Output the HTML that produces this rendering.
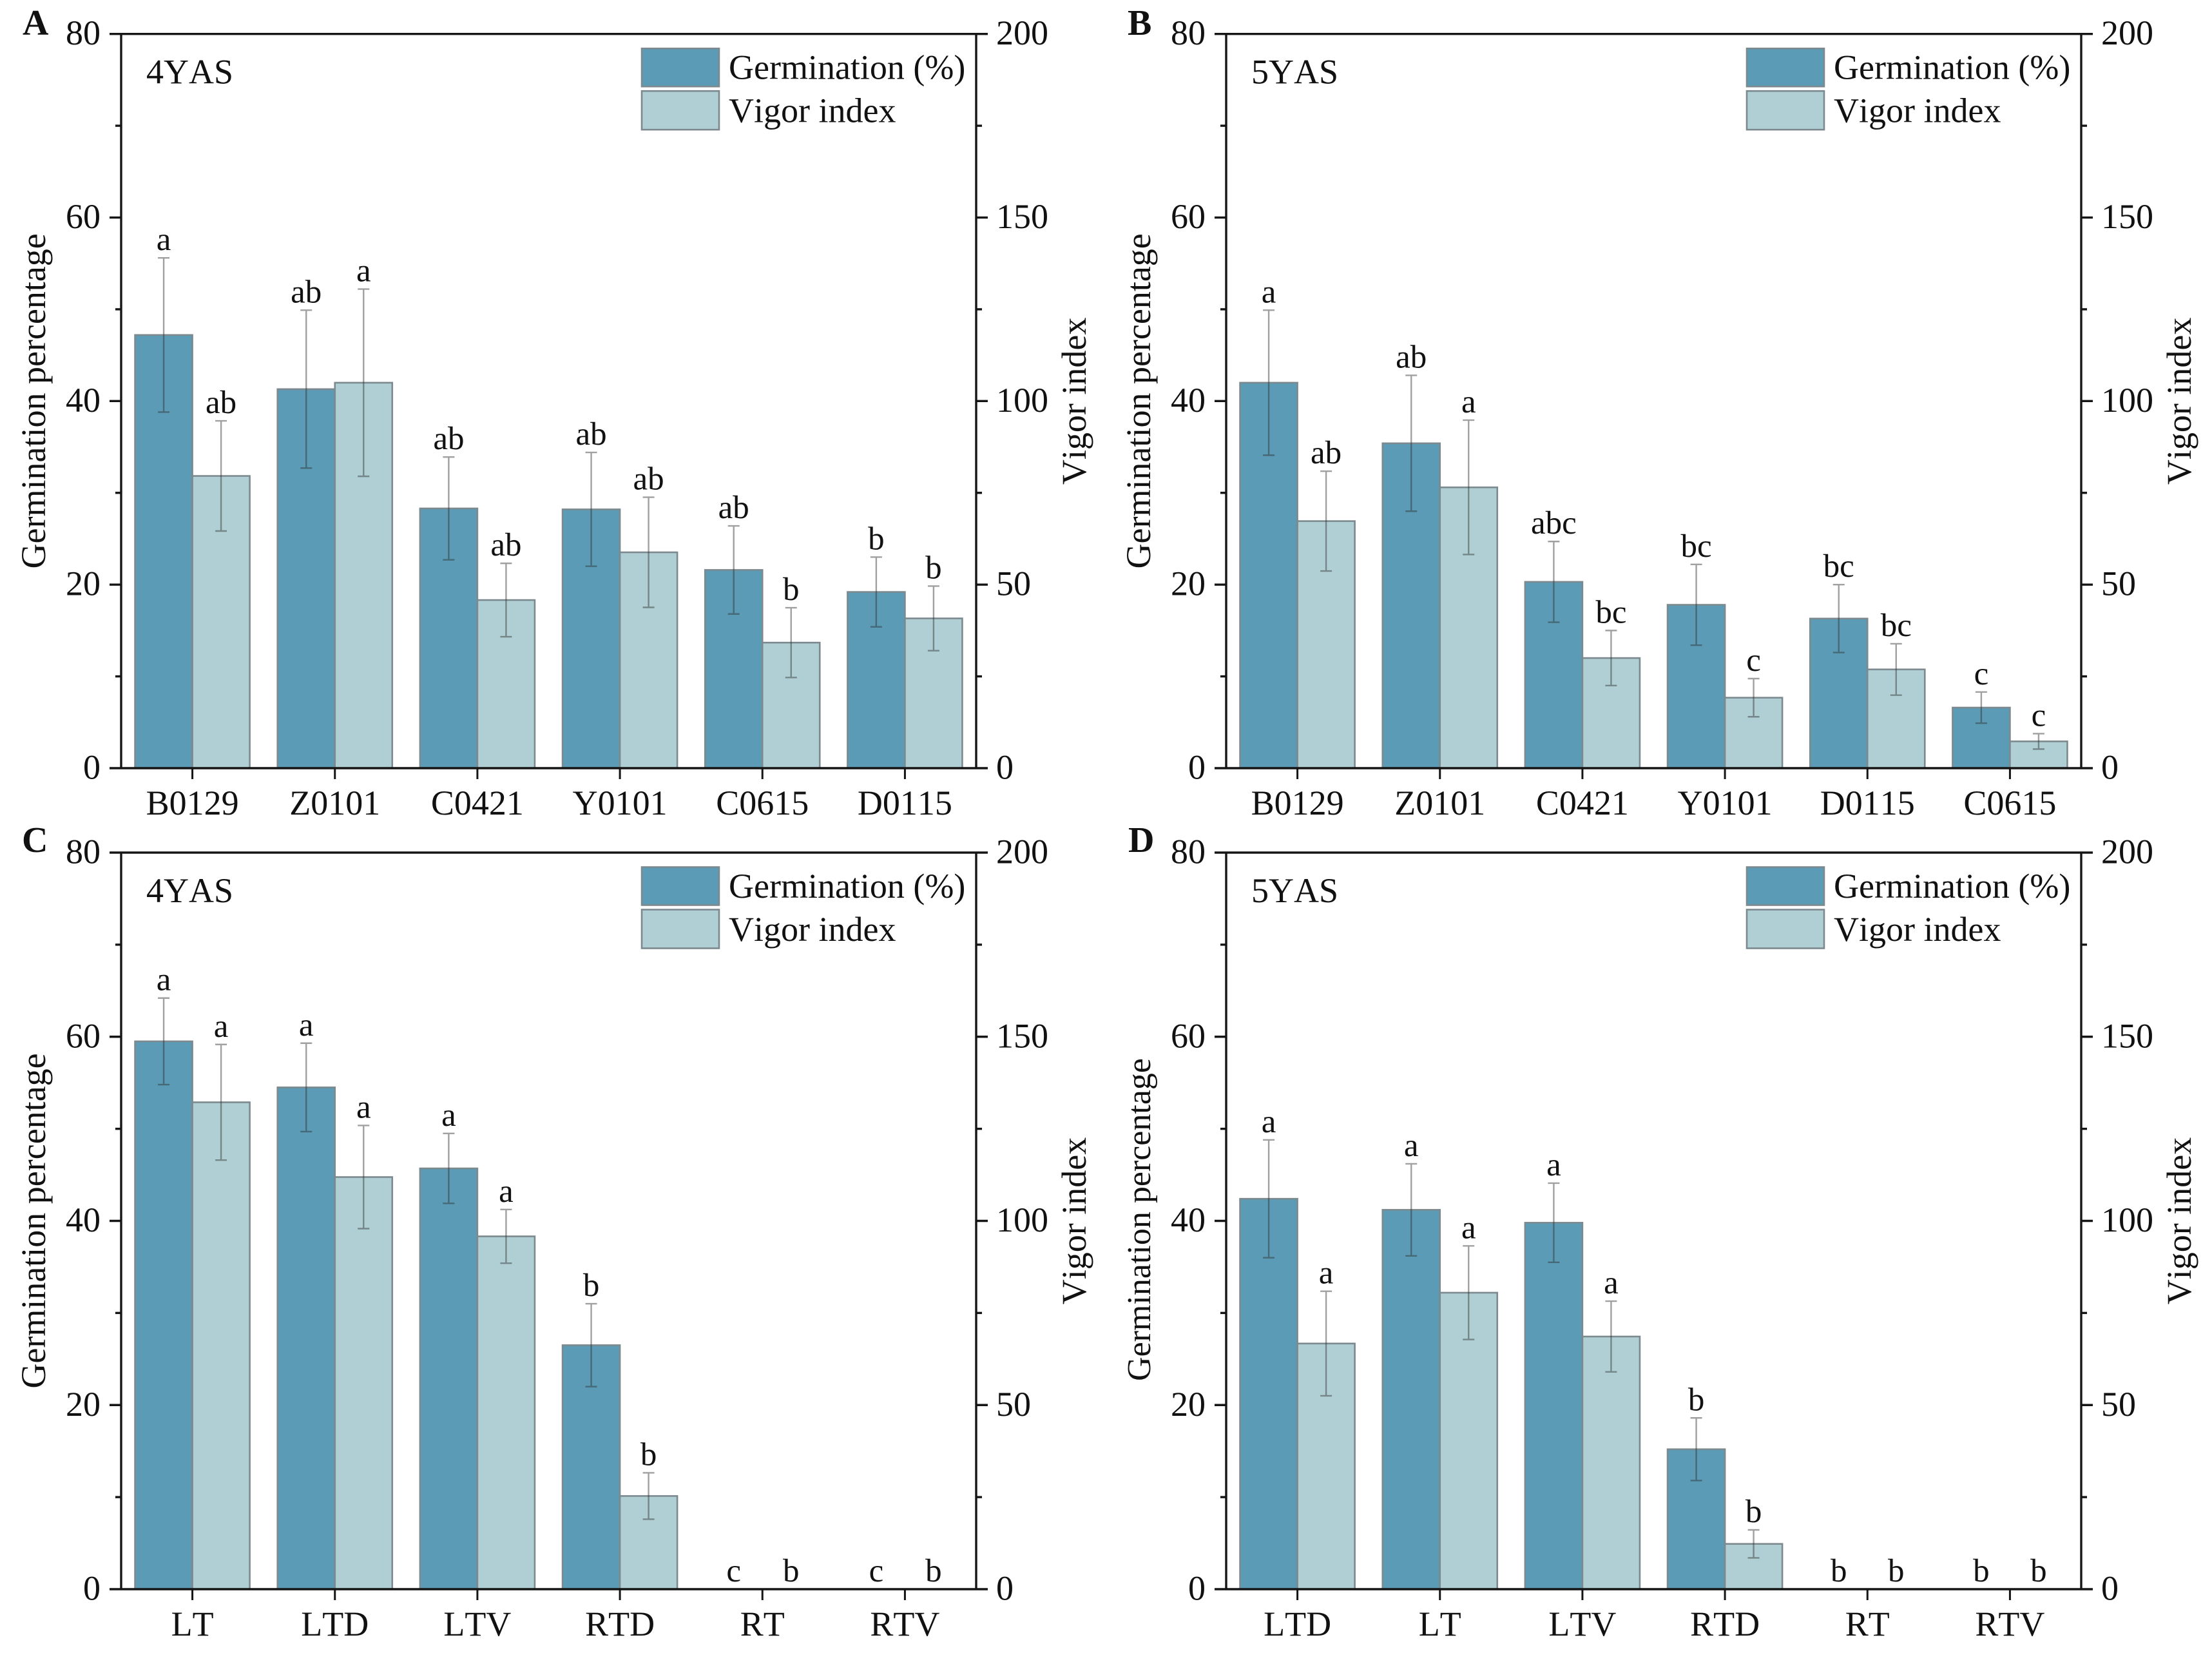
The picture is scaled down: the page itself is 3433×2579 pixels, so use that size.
<!DOCTYPE html>
<html lang="en">
<head>
<meta charset="utf-8">
<title>Germination percentage and vigor index</title>
<style>
  html, body { margin: 0; padding: 0; background: #fff; }
  #figure { display: block; width: 3433px; height: 2579px; }
  text { font-family: "Liberation Serif", "DejaVu Serif", serif; fill: #111; font-kerning: none; }
</style>
</head>
<body>
<svg id="figure" xmlns="http://www.w3.org/2000/svg" width="3433" height="2579" viewBox="0 0 3433 2579"></svg>
<script>
// Panel A
const aCategories = ['B0129', 'Z0101', 'C0421', 'Y0101', 'C0615', 'D0115'];
const aGermination = [47.2, 41.3, 28.3, 28.2, 21.6, 19.2];
const aGerminationErr = [8.4, 8.6, 5.6, 6.2, 4.8, 3.8];
const aGerminationLetters = ['a', 'ab', 'ab', 'ab', 'ab', 'b'];
const aVigor = [79.6, 105, 45.8, 58.8, 34.2, 40.8];
const aVigorErr = [15, 25.5, 10, 15, 9.5, 8.8];
const aVigorLetters = ['ab', 'a', 'ab', 'ab', 'b', 'b'];

// Panel B
const bCategories = ['B0129', 'Z0101', 'C0421', 'Y0101', 'D0115', 'C0615'];
const bGermination = [42.0, 35.4, 20.3, 17.8, 16.3, 6.6];
const bGerminationErr = [7.9, 7.4, 4.4, 4.4, 3.7, 1.7];
const bGerminationLetters = ['a', 'ab', 'abc', 'bc', 'bc', 'c'];
const bVigor = [67.3, 76.5, 30, 19.2, 26.9, 7.3];
const bVigorErr = [13.6, 18.3, 7.5, 5.2, 7, 2.1];
const bVigorLetters = ['ab', 'a', 'bc', 'c', 'bc', 'c'];

// Panel C
const cCategories = ['LT', 'LTD', 'LTV', 'RTD', 'RT', 'RTV'];
const cGermination = [59.5, 54.5, 45.7, 26.5, 0, 0];
const cGerminationErr = [4.7, 4.8, 3.8, 4.5, 0, 0];
const cGerminationLetters = ['a', 'a', 'a', 'b', 'c', 'c'];
const cVigor = [132.2, 111.9, 95.8, 25.3, 0, 0];
const cVigorErr = [15.7, 14, 7.3, 6.3, 0, 0];
const cVigorLetters = ['a', 'a', 'a', 'b', 'b', 'b'];

// Panel D
const dCategories = ['LTD', 'LT', 'LTV', 'RTD', 'RT', 'RTV'];
const dGermination = [42.4, 41.2, 39.8, 15.2, 0, 0];
const dGerminationErr = [6.4, 5, 4.3, 3.4, 0, 0];
const dGerminationLetters = ['a', 'a', 'a', 'b', 'b', 'b'];
const dVigor = [66.7, 80.5, 68.6, 12.3, 0, 0];
const dVigorErr = [14.2, 12.7, 9.6, 3.8, 0, 0];
const dVigorLetters = ['a', 'a', 'a', 'b', 'b', 'b'];

// Shared axis ticks
const leftTickLabels = [0, 20, 40, 60, 80];
const leftMinorTicks = [10, 30, 50, 70];
const rightTickLabels = [0, 50, 100, 150, 200];
const rightMinorTicks = [25, 75, 125, 175];
const leftMax = 80;
const rightMax = 200;

const svg = document.getElementById('figure');
const NS = 'http://www.w3.org/2000/svg';
const DARK = '#5b9bb5';
const LIGHT = '#afcfd4';
const BORDER = '#7c8a8f';
const AXIS = '#151515';
const ERR = 'rgba(45,45,45,0.45)';

function make(tag, attrs, parent, content) {
  const node = document.createElementNS(NS, tag);
  for (const k in attrs) node.setAttribute(k, attrs[k]);
  if (content !== undefined) node.textContent = content;
  parent.appendChild(node);
  return node;
}

function drawPanel(p) {
  const g = make('g', {}, svg);
  
  

  const band = (p.right - p.left) / p.categories.length;
  const barW = band * 0.4025;
  const xCat = i => p.left + band * (i + 0.5);
  const yLeft = v => p.bottom - v / leftMax * (p.bottom - p.top);
  const yRight = v => p.bottom - v / rightMax * (p.bottom - p.top);

  function series(values, errs, letters, yFn, side, fill, label) {
    values.forEach((v, i) => {
      const x0 = side < 0 ? xCat(i) - barW : xCat(i);
      const y = yFn(v);
      const bar = make('rect', { x: x0, y: y, width: barW, height: p.bottom - y, fill: fill, stroke: BORDER, 'stroke-width': 2.6 }, g);
      
      
    });
    values.forEach((v, i) => {
      const cx = xCat(i) + side * barW / 2;
      const yTop = yFn(v + errs[i]);
      const yBot = yFn(v - errs[i]);
      if (errs[i] > 0) {
        const eb = make('path', {
          d: 'M' + cx + ' ' + yTop + 'V' + yBot + 'M' + (cx - 9) + ' ' + yTop + 'H' + (cx + 9) + 'M' + (cx - 9) + ' ' + yBot + 'H' + (cx + 9),
          fill: 'none', stroke: ERR, 'stroke-width': 2.4
        }, g);
        
        
      }
      const t = make('text', { x: cx, y: yTop - 12, 'text-anchor': 'middle', 'font-size': 51 }, g, letters[i]);
      
      
    });
  }

  series(p.germination, p.germinationErr, p.germinationLetters, yLeft, -1, DARK, 'germination');
  series(p.vigor, p.vigorErr, p.vigorLetters, yRight, 1, LIGHT, 'vigor');

  // Axes frame
  const leftAxis = make('line', { x1: p.left, x2: p.left, y1: p.top, y2: p.bottom, stroke: AXIS, 'stroke-width': 3.4 }, g);
  
  
  const rightAxis = make('line', { x1: p.right, x2: p.right, y1: p.top, y2: p.bottom, stroke: AXIS, 'stroke-width': 3.4 }, g);
  
  
  const topAxis = make('line', { x1: p.left, x2: p.right, y1: p.top, y2: p.top, stroke: AXIS, 'stroke-width': 3.4 }, g);
  
  
  const bottomAxis = make('line', { x1: p.left, x2: p.right, y1: p.bottom, y2: p.bottom, stroke: AXIS, 'stroke-width': 3.4 }, g);
  
  

  // Left ticks
  leftTickLabels.forEach(v => {
    const y = yLeft(v);
    const tick = make('line', { x1: p.left - 18, x2: p.left, y1: y, y2: y, stroke: AXIS, 'stroke-width': 3.4 }, g);
    
    
    const lab = make('text', { x: p.left - 32, y: y + 16.5, 'text-anchor': 'end', 'font-size': 54 }, g, v);
    
    
  });
  leftMinorTicks.forEach(v => {
    const y = yLeft(v);
    const tick = make('line', { x1: p.left - 9, x2: p.left, y1: y, y2: y, stroke: AXIS, 'stroke-width': 3.4 }, g);
    
    
  });

  // Right ticks
  rightTickLabels.forEach(v => {
    const y = yRight(v);
    const tick = make('line', { x1: p.right, x2: p.right + 18, y1: y, y2: y, stroke: AXIS, 'stroke-width': 3.4 }, g);
    
    
    const lab = make('text', { x: p.right + 31, y: y + 16.5, 'text-anchor': 'start', 'font-size': 54 }, g, v);
    
    
  });
  rightMinorTicks.forEach(v => {
    const y = yRight(v);
    const tick = make('line', { x1: p.right, x2: p.right + 9, y1: y, y2: y, stroke: AXIS, 'stroke-width': 3.4 }, g);
    
    
  });

  // Category ticks and labels
  p.categories.forEach((c, i) => {
    const x = xCat(i);
    const tick = make('line', { x1: x, x2: x, y1: p.bottom, y2: p.bottom + 17, stroke: AXIS, 'stroke-width': 3 }, g);
    
    
    const lab = make('text', { x: x, y: p.bottom + 72, 'text-anchor': 'middle', 'font-size': 54 }, g, c);
    
    
  });

  // Axis titles
  const midY = (p.top + p.bottom) / 2;
  const yt = make('text', { x: 0, y: 0, 'text-anchor': 'middle', 'font-size': p.titleSize, transform: 'translate(' + (p.left - 118) + ' ' + (midY + p.titleShift) + ') rotate(-90)' }, g, 'Germination percentage');
  
  
  const yr = make('text', { x: 0, y: 0, 'text-anchor': 'middle', 'font-size': 54, transform: 'translate(' + (p.right + 170) + ' ' + midY + ') rotate(-90)' }, g, 'Vigor index');
  
  

  // Annotation
  const yas = make('text', { x: p.left + 39, y: p.top + 77, 'font-size': 54 }, g, p.note);
  
  

  // Legend
  const s1 = make('rect', { x: p.left + 808, y: p.top + 22.5, width: 120, height: 59, fill: DARK, stroke: BORDER, 'stroke-width': 2.6 }, g);
  
  
  const t1 = make('text', { x: p.left + 943, y: p.top + 70, 'font-size': 54 }, g, 'Germination (%)');
  
  
  const s2 = make('rect', { x: p.left + 808, y: p.top + 88.5, width: 120, height: 60, fill: LIGHT, stroke: BORDER, 'stroke-width': 2.6 }, g);
  
  
  const t2 = make('text', { x: p.left + 943, y: p.top + 137, 'font-size': 54 }, g, 'Vigor index');
  
  

  // Panel letter
  const letter = make('text', { x: p.letterX, y: p.letterY, 'font-size': 56, 'font-weight': 'bold' }, g, p.id);
  
  
}

drawPanel({ id: 'A', note: '4YAS', left: 188, right: 1515, top: 52.7, bottom: 1192, letterX: 35, letterY: 54, titleSize: 54, titleShift: 0,
  categories: aCategories, germination: aGermination, germinationErr: aGerminationErr, germinationLetters: aGerminationLetters,
  vigor: aVigor, vigorErr: aVigorErr, vigorLetters: aVigorLetters });
drawPanel({ id: 'B', note: '5YAS', left: 1903, right: 3230, top: 52.7, bottom: 1192, letterX: 1750, letterY: 54, titleSize: 54, titleShift: 0,
  categories: bCategories, germination: bGermination, germinationErr: bGerminationErr, germinationLetters: bGerminationLetters,
  vigor: bVigor, vigorErr: bVigorErr, vigorLetters: bVigorLetters });
drawPanel({ id: 'C', note: '4YAS', left: 188, right: 1515, top: 1323, bottom: 2466, letterX: 34, letterY: 1322, titleSize: 54, titleShift: 0,
  categories: cCategories, germination: cGermination, germinationErr: cGerminationErr, germinationLetters: cGerminationLetters,
  vigor: cVigor, vigorErr: cVigorErr, vigorLetters: cVigorLetters });
drawPanel({ id: 'D', note: '5YAS', left: 1903, right: 3230, top: 1323, bottom: 2466, letterX: 1751, letterY: 1322, titleSize: 52, titleShift: -2,
  categories: dCategories, germination: dGermination, germinationErr: dGerminationErr, germinationLetters: dGerminationLetters,
  vigor: dVigor, vigorErr: dVigorErr, vigorLetters: dVigorLetters });
</script>
</body>
</html>
